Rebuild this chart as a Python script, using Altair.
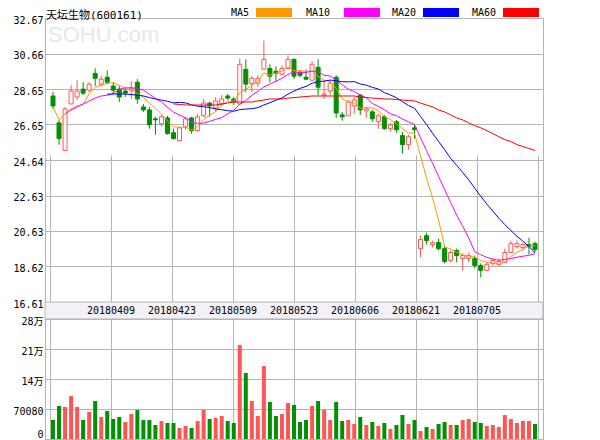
import altair as alt
import pandas as pd

# ---------------- data ----------------
title_name = "天坛生物"
title_code = "(600161)"

price_ticks = [16.61, 18.62, 20.63, 22.63, 24.64, 26.65, 28.65, 30.66, 32.67]
vol_ticks = [0, 70080, 140160, 210240, 280320]
vol_tick_labels = ["0", "70080", "14万", "21万", "28万"]
date_ticks = ["20180409", "20180423", "20180509", "20180523",
              "20180606", "20180621", "20180705"]

opens = [28.26, 26.74, 25.18, 27.81, 28.20, 28.65, 28.59, 29.54, 28.93, 29.32,
         28.82, 28.65, 28.54, 28.59, 29.04, 27.64, 27.47, 26.97, 26.69, 27.02,
         26.18, 25.74, 26.52, 27.02, 26.30, 27.14, 27.86, 27.58, 27.81, 28.26,
         28.09, 27.81, 29.77, 28.98, 28.98, 29.77, 29.82, 29.66, 29.49, 29.82,
         30.33, 29.60, 29.32, 29.15, 29.88, 28.31, 28.54, 29.32, 27.19, 27.14,
         27.70, 28.31, 27.42, 27.36, 26.80, 27.08, 26.41, 26.80, 26.02, 25.51,
         26.46, 19.63, 20.36, 19.86, 19.97, 19.63, 18.96, 19.52, 19.07, 19.07,
         19.07, 18.68, 18.40, 18.79, 18.74, 18.85, 19.41, 19.74, 19.69, 19.86,
         19.91]
highs = [28.48, 26.91, 27.64, 28.87, 29.15, 29.04, 29.04, 29.82, 29.38, 29.71,
         29.04, 28.82, 28.70, 29.10, 29.21, 27.81, 27.64, 27.08, 27.19, 27.14,
         26.41, 26.52, 27.08, 27.08, 27.25, 28.09, 27.92, 28.20, 28.31, 28.37,
         28.20, 30.38, 30.33, 29.38, 29.43, 31.39, 30.05, 29.94, 29.99, 30.55,
         30.38, 29.71, 29.77, 30.22, 30.33, 29.15, 29.15, 29.43, 27.36, 28.03,
         28.20, 28.37, 27.58, 27.47, 27.25, 27.19, 26.74, 26.91, 26.24, 26.07,
         26.69, 20.36, 20.53, 20.08, 20.19, 19.80, 19.52, 19.63, 19.35, 19.41,
         19.24, 18.79, 18.85, 19.07, 19.07, 19.63, 20.08, 20.08, 19.97, 20.25,
         20.02]
lows = [27.53, 25.51, 25.18, 27.81, 28.03, 28.31, 28.48, 28.82, 28.82, 28.93,
        28.37, 27.92, 28.20, 28.09, 27.81, 27.36, 26.41, 26.07, 26.52, 26.07,
        25.79, 25.74, 26.35, 26.13, 26.24, 27.08, 27.08, 27.36, 27.75, 28.03,
        27.75, 27.81, 28.48, 28.48, 28.76, 29.77, 29.04, 29.04, 29.43, 29.77,
        29.21, 29.32, 29.15, 29.15, 28.31, 28.09, 28.31, 27.02, 26.86, 27.14,
        27.25, 27.19, 27.02, 26.80, 26.41, 26.35, 26.24, 26.18, 25.01, 25.23,
        25.85, 19.13, 19.86, 19.69, 19.52, 18.79, 18.85, 18.85, 18.40, 18.85,
        18.51, 18.01, 18.34, 18.62, 18.62, 18.85, 19.41, 19.63, 19.52, 19.30,
        19.41]
closes = [27.70, 25.85, 27.53, 28.54, 28.54, 28.42, 28.93, 29.26, 29.21, 29.04,
          28.59, 28.20, 28.42, 28.70, 28.09, 27.47, 26.63, 26.91, 27.08, 26.13,
          25.85, 26.46, 26.97, 26.30, 27.08, 27.86, 27.70, 27.98, 28.09, 28.14,
          27.92, 30.05, 28.93, 29.26, 29.26, 30.33, 29.38, 29.54, 29.82, 30.33,
          29.38, 29.43, 29.21, 30.05, 28.76, 28.37, 28.98, 27.30, 27.08, 27.92,
          28.03, 27.47, 27.53, 26.97, 27.14, 26.41, 26.63, 26.35, 25.51, 25.96,
          26.35, 20.14, 20.08, 19.97, 19.63, 18.90, 19.41, 19.24, 19.24, 19.24,
          18.68, 18.40, 18.74, 18.96, 18.90, 19.41, 19.91, 19.91, 19.86, 19.74,
          19.58]
volumes = [44400, 77100, 74800, 100400, 74800, 44400, 63100, 88800, 51400, 65400,
           46700, 51400, 39700, 58400, 67700, 44400, 44400, 32700, 42000, 37400,
           37400, 25700, 30400, 25700, 42000, 67700, 46700, 49100, 53700, 42000,
           37400, 219600, 154200, 88800, 53700, 170500, 86400, 53700, 58400, 84100,
           79400, 39700, 44400, 77100, 88800, 67700, 44400, 86400, 42000, 44400,
           35000, 51400, 32700, 39700, 30400, 37400, 23400, 32700, 56100, 35000,
           44400, 18700, 28000, 23400, 35000, 39700, 32700, 32700, 44400, 46700,
           39700, 37400, 30400, 32700, 28000, 56100, 46700, 37400, 42000, 42000,
           35000]
vol_up = [0, 0, 1, 1, 1, 0, 1, 0, 1, 0,
          0, 0, 1, 1, 0, 0, 0, 0, 1, 0,
          0, 1, 1, 0, 1, 1, 0, 1, 1, 0,
          0, 1, 0, 1, 1, 1, 0, 0, 1, 1,
          0, 0, 0, 1, 0, 1, 1, 0, 0, 1,
          1, 0, 1, 0, 1, 0, 1, 0, 0, 1,
          0, 1, 0, 1, 0, 0, 1, 0, 1, 1,
          0, 0, 1, 1, 1, 1, 1, 1, 1, 1,
          0]

ma5 = [27.64, 26.91, 27.25, 27.53, 27.70, 27.77, 28.39, 28.74, 28.87, 28.97,
       29.01, 28.86, 28.69, 28.59, 28.40, 28.18, 27.86, 27.56, 27.24, 26.84,
       26.52, 26.49, 26.50, 26.34, 26.53, 26.93, 27.18, 27.38, 27.74, 27.95,
       27.96, 28.44, 28.63, 28.86, 29.08, 29.57, 29.43, 29.56, 29.67, 29.88,
       29.69, 29.70, 29.63, 29.68, 29.36, 29.16, 29.07, 28.69, 28.10, 27.93,
       27.86, 27.56, 27.61, 27.58, 27.43, 27.10, 26.93, 26.70, 26.41, 26.17,
       26.17, 24.87, 23.62, 22.51, 21.24, 19.74, 19.60, 19.43, 19.28, 19.21,
       19.16, 18.96, 18.86, 18.80, 18.74, 18.88, 19.18, 19.42, 19.60, 19.77,
       19.80]
ma10 = [27.25, 27.47, 27.64, 27.81, 27.98, 28.14, 28.26, 28.30,
        28.39, 28.63, 28.72, 28.73, 28.69, 28.59, 28.36, 28.13, 27.91, 27.62,
        27.35, 27.18, 27.03, 26.79, 26.69, 26.73, 26.83, 26.94, 27.04, 27.24,
        27.45, 27.81, 28.00, 28.30, 28.52, 28.77, 28.93, 29.09, 29.26, 29.48,
        29.63, 29.57, 29.59, 29.67, 29.62, 29.43, 29.39, 29.16, 28.89, 28.65,
        28.51, 28.32, 28.15, 27.84, 27.68, 27.48, 27.25, 27.15, 26.96, 26.80,
        26.64, 25.90, 25.16, 24.46, 23.71, 22.96, 22.24, 21.52, 20.90, 20.23,
        19.45, 19.28, 19.14, 19.04, 18.97, 19.02, 19.07, 19.14, 19.20, 19.25,
        19.34]
ma20 = [28.37, 28.37, 28.37, 28.37, 28.34, 28.31, 28.26, 28.17, 28.09, 28.03,
        27.96, 27.87, 27.90, 27.87, 27.76, 27.68, 27.66, 27.60, 27.53, 27.48,
        27.43, 27.40, 27.49, 27.52, 27.54, 27.60, 27.75, 27.88, 28.02, 28.15,
        28.36, 28.54, 28.69, 28.80, 28.98, 29.07, 29.10, 29.16, 29.12, 29.07,
        29.06, 29.07, 28.94, 28.87, 28.75, 28.65, 28.45, 28.32, 28.16, 27.94,
        27.72, 27.57, 27.11, 26.65, 26.15, 25.69, 25.22, 24.74, 24.34, 23.94,
        23.51, 23.05, 22.59, 22.15, 21.75, 21.34, 20.99, 20.65, 20.33, 20.05,
        19.74, 19.40]
ma60 = [27.81, 27.78, 27.75, 27.75, 27.75, 27.75, 27.75, 27.75, 27.81, 27.86,
        27.92, 27.92, 27.92, 27.92, 27.98, 28.03, 28.09, 28.09, 28.09, 28.14,
        28.17, 28.20, 28.23, 28.26, 28.26, 28.26, 28.26, 28.26, 28.26, 28.26,
        28.26, 28.20, 28.17, 28.14, 28.12, 28.09, 28.09, 28.06, 28.03, 28.00,
        27.98, 27.86, 27.75, 27.64, 27.47, 27.36, 27.19, 27.02, 26.91, 26.74,
        26.58, 26.46, 26.30, 26.13, 25.96, 25.79, 25.68, 25.51, 25.40, 25.29,
        25.18]

ma_names = ["MA5", "MA10", "MA20", "MA60"]
ma_series = [ma5, ma10, ma20, ma60]
ma_first_index = [0, 2, 9, 20]

# ---------------- styles ----------------
RED = "#ff5555"
GREEN = "#009000"
GRID = "#b4b4b4"
BAND = "#f1f1f7"
MONO = "DejaVu Sans Mono"
CJK = "Noto Sans CJK SC"
ma_colors = ["#ff9900", "#ff00ff", "#0000ff", "#ff0000"]

W = 498
PRICE_H = 284
BAND_TOP, BAND_BOT = 284, 301
H = 421

n = len(opens)
df = pd.DataFrame({"idx": list(range(n)), "open": opens, "high": highs,
                   "low": lows, "close": closes, "vol": volumes, "vol_up": vol_up})

rows = []
for name, start, vals in zip(ma_names, ma_first_index, ma_series):
    for k, v in enumerate(vals):
        rows.append({"idx": start + k, "ma": name, "value": v})
ma_df = pd.DataFrame(rows)

grid_x = [-0.5 + n * k / 8 for k in range(9)]
dates_df = pd.DataFrame({"pos": grid_x[1:-1], "label": date_ticks})

xscale = alt.Scale(domain=[-0.5, n - 0.5], nice=False, zero=False)
xaxis = alt.Axis(values=grid_x, labels=False, ticks=False, domain=False,
                 grid=True, gridColor=GRID, title=None)


def X(field):
    return alt.X(field, type="quantitative", scale=xscale, axis=xaxis)


pscale = alt.Scale(domain=[price_ticks[0], price_ticks[-1]], range=[PRICE_H, 0],
                   nice=False, zero=False)
paxis = alt.Axis(values=price_ticks, format=".2f", title=None, domain=False,
                 ticks=False, labelPadding=2, labelOffset=2, grid=True,
                 gridColor=GRID, labelFont=MONO, labelFontSize=10,
                 labelColor="#000000", labelBaseline="middle")

vscale = alt.Scale(domain=[vol_ticks[0], vol_ticks[-1]], range=[H, BAND_BOT],
                   nice=False, zero=True)
label_map = "{" + ",".join("'%d':'%s'" % (v, s) for v, s in zip(vol_ticks, vol_tick_labels)) + "}"
vaxis = alt.Axis(values=vol_ticks, labelExpr=label_map + "[datum.value]",
                 title=None, domain=False, ticks=False, labelPadding=2,
                 orient="left", grid=True, gridColor=GRID,
                 labelFont=MONO + ", " + CJK, labelFontSize=10,
                 labelColor="#000000", labelBaseline="middle",
                 labelOffset={"condition": {"test": "datum.value == 0", "value": -5},
                              "value": 2})

up = "datum.close >= datum.open"

wicks = alt.Chart(df).mark_rule(strokeWidth=1).encode(
    x=X("idx"),
    y=alt.Y("low:Q", scale=pscale, axis=paxis),
    y2="high:Q",
    color=alt.condition(up, alt.value(RED), alt.value(GREEN)),
)
bodies = alt.Chart(df).mark_bar(size=4, strokeWidth=1).encode(
    x=X("idx"),
    y=alt.Y("open:Q", scale=pscale, axis=paxis),
    y2="close:Q",
    fill=alt.condition(up, alt.value("#ffffff"), alt.value(GREEN)),
    stroke=alt.condition(up, alt.value(RED), alt.value(GREEN)),
)
lines = alt.Chart(ma_df).mark_line(strokeWidth=1).encode(
    x=X("idx"),
    y=alt.Y("value:Q", scale=pscale, axis=paxis),
    color=alt.Color("ma:N", scale=alt.Scale(domain=ma_names, range=ma_colors),
                    legend=None),
)
price = alt.layer(wicks, bodies, lines)

vol = alt.Chart(df).mark_bar(size=4).encode(
    x=X("idx"),
    y=alt.Y("vol:Q", scale=vscale, axis=vaxis),
    color=alt.condition("datum.vol_up == 1", alt.value(RED), alt.value(GREEN)),
)

one = alt.Data(values=[{}])
band = alt.Chart(one).mark_rect(fill=BAND, stroke=GRID, strokeWidth=1).encode(
    x=alt.value(0), x2=alt.value(W), y=alt.value(BAND_TOP), y2=alt.value(BAND_BOT))

watermark = alt.Chart(one).mark_text(text="SOHU.com", font="Liberation Sans",
                                     fontSize=22, color="#e8e8e8", align="left",
                                     baseline="middle").encode(
    x=alt.value(3), y=alt.value(17))

date_text = alt.Chart(dates_df).mark_text(font=MONO, fontSize=10, color="#000000",
                                          align="center", baseline="middle").encode(
    x=X("pos"), y=alt.value((BAND_TOP + BAND_BOT) / 2), text="label:N")

title = alt.Chart(one).mark_text(text=title_name + title_code,
                                 font=MONO + ", " + CJK, fontSize=11,
                                 color="#000000", align="left",
                                 baseline="alphabetic").encode(
    x=alt.value(1), y=alt.value(0.5))

legend_layers = []
legend_text_x = [186, 261, 347, 427]
legend_box_x = [211, 299, 378, 458]
for name, col, tx, bx in zip(ma_names, ma_colors, legend_text_x, legend_box_x):
    legend_layers.append(
        alt.Chart(one).mark_text(text=name, font=MONO, fontSize=10, color="#000000",
                                 align="left", baseline="alphabetic").encode(
            x=alt.value(tx), y=alt.value(-2)))
    legend_layers.append(
        alt.Chart(one).mark_rect(fill=col).encode(
            x=alt.value(bx), x2=alt.value(bx + 36), y=alt.value(-10), y2=alt.value(-1)))

chart = alt.layer(band, watermark, price, vol, date_text, title,
                  *legend_layers).resolve_scale(y="independent").properties(
    width=W, height=H,
    padding={"left": 37, "top": 10, "right": 12, "bottom": 1},
    autosize=alt.AutoSizeParams(type="none"),
).configure(background="white").configure_view(stroke=GRID, strokeWidth=1, fill="white")

chart.save("out.html", embed_options={"renderer": "svg", "actions": False})
